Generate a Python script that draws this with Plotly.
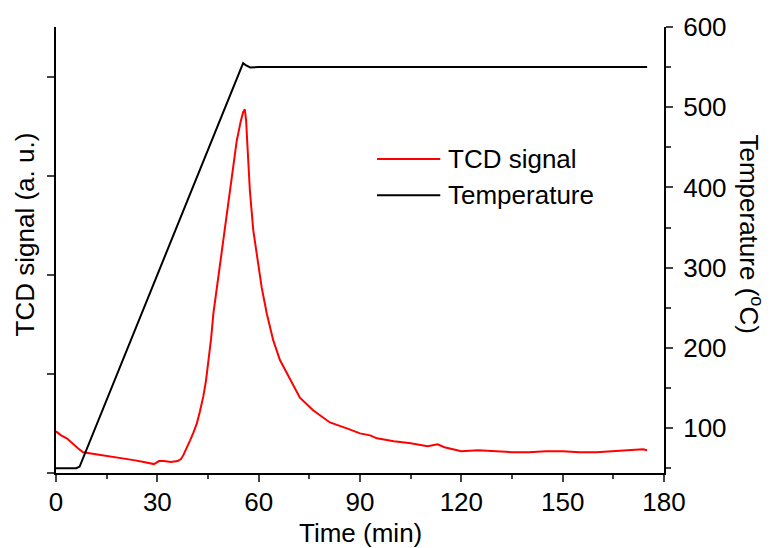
import plotly.graph_objects as go

# ---- data ----
tcd_time = [0, 0.3, 1.5, 3.2, 5, 6.5, 8, 10, 13, 16, 18, 21, 23, 26, 28, 29, 29.5, 30.5,
            32, 34, 36, 37, 37.7, 38.7, 39.7, 40.7, 41.7, 42.6, 43.6, 44.4, 45.1, 45.9,
            46.6, 47.3, 48.0, 49.1, 50.5, 52.0, 53.5, 54.7, 55.4, 55.9, 56.3, 56.6, 57.4,
            58.4, 59.9, 60.9, 62.4, 64.3, 66.3, 69.3, 72.2, 76.2, 81.1, 86.1, 90, 93, 95,
            100, 105, 110, 113, 115, 120, 125, 130, 135, 140, 145, 150, 155, 160, 165,
            170, 173.8, 175]
tcd_signal = [0.42, 0.41, 0.38, 0.35, 0.29, 0.25, 0.21, 0.20, 0.18, 0.17, 0.16, 0.14, 0.13,
              0.11, 0.10, 0.09, 0.10, 0.12, 0.12, 0.11, 0.12, 0.14, 0.18, 0.25, 0.33, 0.41,
              0.50, 0.62, 0.77, 0.93, 1.11, 1.35, 1.61, 1.79, 1.94, 2.21, 2.58, 2.98, 3.35,
              3.55, 3.64, 3.67, 3.55, 3.35, 2.85, 2.45, 2.11, 1.87, 1.61, 1.34, 1.14, 0.94,
              0.76, 0.63, 0.51, 0.45, 0.40, 0.38, 0.35, 0.32, 0.30, 0.27, 0.29, 0.26, 0.22,
              0.23, 0.22, 0.21, 0.21, 0.22, 0.22, 0.21, 0.21, 0.22, 0.23, 0.24, 0.23]

temp_time = [0, 6, 7, 55.4, 56.3, 57.5, 60, 175]
temperature = [50, 50, 52, 555, 552, 549.5, 550, 550]

x_ticks = [0, 30, 60, 90, 120, 150, 180]
temp_ticks = [100, 200, 300, 400, 500, 600]
tcd_ticks = [0, 1, 2, 3, 4]

FONT = "Liberation Sans, Arial, sans-serif"
FS = 26
RED = "#ff0000"

fig = go.Figure()
fig.add_trace(go.Scatter(x=tcd_time, y=tcd_signal, mode="lines", name="TCD signal",
                         line=dict(color=RED, width=2), yaxis="y"))
fig.add_trace(go.Scatter(x=temp_time, y=temperature, mode="lines", name="Temperature",
                         line=dict(color="black", width=2), yaxis="y2"))

fig.update_layout(
    width=771, height=548,
    margin=dict(l=56, r=107, t=27, b=75, autoexpand=False),
    paper_bgcolor="white", plot_bgcolor="white",
    showlegend=False,
    font=dict(family=FONT, size=FS, color="black"),
    xaxis=dict(range=[0, 180], tickvals=x_ticks, ticks="outside", ticklen=7, tickwidth=1.5,
               showline=True, linewidth=2, linecolor="black", showgrid=False, zeroline=False,
               minor=dict(dtick=15, tick0=0, ticks="outside", ticklen=4, tickwidth=1.5),
               tickfont=dict(size=FS), ticklabelstandoff=-2),
    yaxis=dict(range=[0, 4.5], tickvals=tcd_ticks, showticklabels=False, ticks="outside",
               ticklen=7, tickwidth=1.5, showline=True, linewidth=2, linecolor="black",
               showgrid=False, zeroline=False),
    yaxis2=dict(range=[44, 600], tickvals=temp_ticks, overlaying="y", side="right", anchor="x",
                ticks="outside", ticklen=7, tickwidth=1.5, showline=True, linewidth=2,
                linecolor="black", showgrid=False, zeroline=False,
                minor=dict(dtick=50, tick0=0, ticks="outside", ticklen=5, tickwidth=1.5),
                tickfont=dict(size=FS), ticklabelstandoff=5),
)

# axis titles
fig.add_annotation(text="Time (min)", xref="paper", yref="paper", x=0.5, y=-0.135,
                   xanchor="center", yanchor="middle", showarrow=False, font=dict(size=FS))
fig.add_annotation(text="TCD signal (a. u.)", xref="paper", yref="paper", x=-0.051, y=0.535,
                   xanchor="center", yanchor="middle", textangle=-90, showarrow=False,
                   font=dict(size=FS))
fig.add_annotation(text="Temperature (<sup>o</sup>C)", xref="paper", yref="paper", x=1.143,
                   y=0.535, xanchor="center", yanchor="middle", textangle=90, showarrow=False,
                   font=dict(size=FS))

# legend drawn manually
legend_items = [("TCD signal", RED, 0.704), ("Temperature", "black", 0.623)]
for label, color, yy in legend_items:
    fig.add_shape(type="line", xref="paper", yref="paper", x0=0.528, x1=0.632, y0=yy, y1=yy,
                  line=dict(color=color, width=2))
    fig.add_annotation(text=label, xref="paper", yref="paper", x=0.642, y=yy, xanchor="left",
                       yanchor="middle", showarrow=False, font=dict(size=FS))

fig.write_html("out.html", config={"displayModeBar": False},
               post_script="document.body.style.margin='0';document.body.style.padding='0';")
